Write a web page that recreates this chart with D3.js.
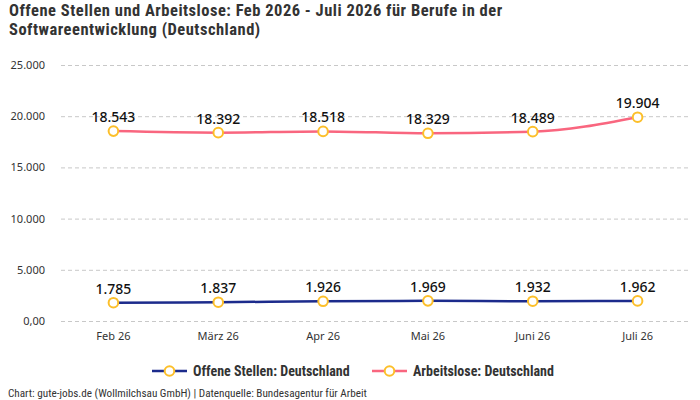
<!DOCTYPE html>
<html><head><meta charset="utf-8">
<script src="https://cdn.jsdelivr.net/npm/d3@7"></script>
<style>
body{margin:0;background:#fff;}
svg{display:block;}
</style></head>
<body><svg id="c" width="700" height="400"></svg>
<script>
const categories = ["Feb 26","März 26","Apr 26","Mai 26","Juni 26","Juli 26"];
const offeneStellen = [1785,1837,1926,1969,1932,1962];
const arbeitslose = [18543,18392,18518,18329,18489,19904];
const yTicks = [0,5000,10000,15000,20000,25000];
const seriesNames = ["Offene Stellen: Deutschland","Arbeitslose: Deutschland"];

const svg = d3.select("#c");
const cond = "'Liberation Sans Narrow','Roboto Condensed','Arial Narrow',Roboto,sans-serif";
const plain = "'Noto Sans','Open Sans',sans-serif";

const x = d3.scaleBand().domain(categories).range([61,690]);
const y = d3.scaleLinear().domain([0,25000]).range([321,65]);
const fmt = v => v===0 ? "0,00" : d3.format(",")(v).replace(/,/g,".");

// title
[["Offene Stellen und Arbeitslose: Feb 2026 - Juli 2026 für Berufe in der",16],
 ["Softwareentwicklung (Deutschland)",35]].forEach(([t,yy])=>{
  svg.append("text").attr("x",9).attr("y",yy).attr("font-family",cond).attr("font-weight","bold")
    .attr("font-size",16.5).attr("letter-spacing",0.5).attr("fill","#333").text(t);
});

// grid
const yAxis = d3.axisLeft(y).tickValues(yTicks).tickSize(-(688-61)).tickFormat(fmt);
const gy = svg.append("g").attr("transform","translate(61,0)").call(yAxis);
gy.select(".domain").remove();
gy.selectAll(".tick line").attr("stroke","#c8c8c8").attr("stroke-dasharray","4,3");
gy.selectAll(".tick text").attr("x",-16).attr("font-family",plain).attr("font-size",11).attr("fill","#333");

const xAxis = d3.axisBottom(x).tickSize(0);
const gx = svg.append("g").attr("transform","translate(0,321)").call(xAxis);
gx.select(".domain").remove();
gx.selectAll(".tick text").attr("dy",0).attr("y",19).attr("font-family",plain).attr("font-size",11).attr("fill","#333");

const cx = d => x(d) + x.bandwidth()/2;
const series = [
  {name:seriesNames[0], values:offeneStellen, color:"#1c2b8c"},
  {name:seriesNames[1], values:arbeitslose, color:"#f9667f"}
];
const line = d3.line().curve(d3.curveMonotoneX).x((d,i)=>cx(categories[i])).y(d=>y(d));
series.forEach(s=>{
  svg.append("path").datum(s.values).attr("d",line).attr("fill","none").attr("stroke",s.color).attr("stroke-width",2.5);
  svg.selectAll(null).data(s.values).enter().append("circle")
    .attr("cx",(d,i)=>cx(categories[i])).attr("cy",d=>y(d)).attr("r",4.8)
    .attr("fill","#fff").attr("stroke","#fcbf2a").attr("stroke-width",2);
  svg.selectAll(null).data(s.values).enter().append("text")
    .attr("x",(d,i)=>cx(categories[i])).attr("y",d=>y(d)-9).attr("text-anchor","middle")
    .attr("font-family",plain).attr("font-size",14).attr("font-weight",500).attr("fill","#111")
    .text(d=>fmt(d));
});

// legend
const leg = [{x:152, s:series[0]},{x:372, s:series[1]}];
leg.forEach(l=>{
  const g = svg.append("g").attr("transform",`translate(${l.x},371)`);
  g.append("line").attr("x1",0).attr("x2",35).attr("stroke",l.s.color).attr("stroke-width",2.5);
  g.append("circle").attr("cx",17.5).attr("r",4.8).attr("fill","#fff").attr("stroke","#fcbf2a").attr("stroke-width",2);
  g.append("text").attr("x",41).attr("y",5).attr("font-family",cond).attr("font-weight","bold")
    .attr("font-size",14).attr("fill","#333").text(l.s.name);
});

svg.append("text").attr("x",8).attr("y",397).attr("font-family",cond).attr("font-size",11.2).attr("fill","#333")
  .text("Chart: gute-jobs.de (Wollmilchsau GmbH) | Datenquelle: Bundesagentur für Arbeit");
</script></body></html>
